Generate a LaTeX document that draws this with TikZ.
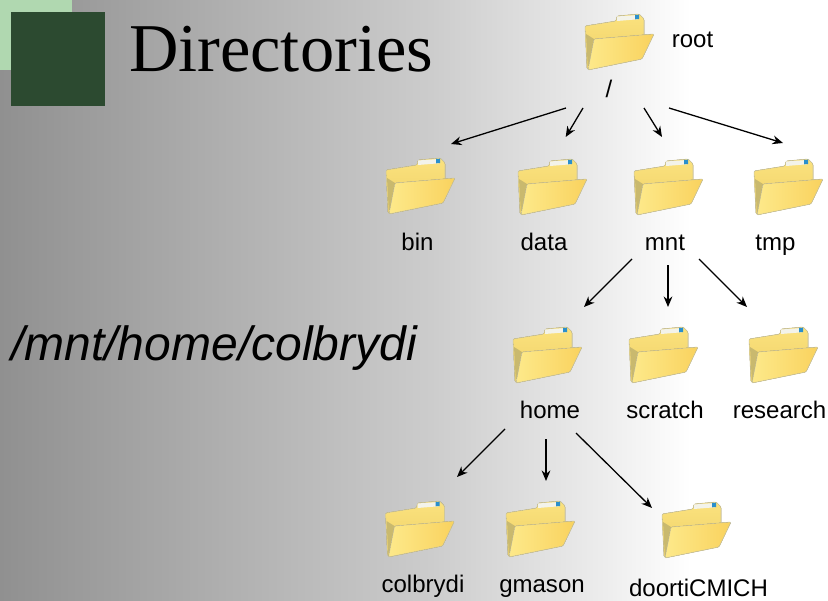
\documentclass[tikz,border=0pt]{standalone}
\usepackage{fontspec}
\setmainfont{Liberation Sans}
\newfontfamily\titlefont{Liberation Serif}
\usetikzlibrary{arrows.meta}

\definecolor{lightgreen}{HTML}{B0D8B0}
\definecolor{darkgreen}{HTML}{2C4A30}
\definecolor{folderedge}{HTML}{CFC79A}
\definecolor{backtop}{HTML}{FBE27E}
\definecolor{backbottom}{HTML}{EED066}
\definecolor{frontleft}{HTML}{FDE98A}
\definecolor{frontright}{HTML}{F9D25E}
\definecolor{gusset}{HTML}{C9B96E}
\definecolor{paper}{HTML}{F3F3EA}
\definecolor{tabblue}{HTML}{2A8FCC}
\pgfdeclarehorizontalshading{bgshade}{100bp}{color(0bp)=(black!43.5);color(25bp)=(black!43.5);color(51bp)=(black!20);color(61.2bp)=(black!7.5);color(66.7bp)=(white);color(100bp)=(white)}

\tikzset{
    folder/.style={inner sep=0pt, minimum width=22.2mm, minimum height=18.6mm, path picture={
        \begin{scope}[shift={(path picture bounding box.center)}]
            \fill[draw=folderedge, line width=0.5pt, rounded corners=1pt, top color=backtop, bottom color=backbottom] (-35,-16) -- (-4,-21) -- (-3,-26) -- (19,-28) -- (24,-23) -- (24,0) -- (10,10) -- (-33,27) -- cycle;
            \fill[paper] (-3,-25.5) -- (18,-27) -- (18,-22.7) -- (-3,-21) -- cycle;
            \fill[tabblue] (15,-27) -- (19,-27.3) -- (19,-23) -- (15,-22.7) -- cycle;
            \fill[gusset] (-26,-3) -- (-32,28) -- (-34,-8) -- cycle;
            \fill[draw=folderedge, line width=0.5pt, rounded corners=1pt, left color=frontleft, right color=frontright] (-26,-3) -- (34,-8) -- (22,17) -- (-32,28) -- cycle;
        \end{scope}}},
    lbl/.style={anchor=base, inner sep=0pt, font=\fontsize{20.5pt}{24pt}\selectfont},
    arrow/.style={line width=1.1pt, -{Stealth[length=9pt,width=7.5pt]}}
}

\begin{document}
\begin{tikzpicture}[x=0.3mm, y=-0.3mm]
    \useasboundingbox (0,0) rectangle (828,601);
    \shade[shading=bgshade] (0,0) rectangle (828,601);
    \fill[lightgreen] (0,0) rectangle (72,70);
    \fill[darkgreen] (11,12) rectangle (105,106);

    \node[font=\titlefont\fontsize{58.4pt}{60pt}\selectfont, anchor=base] at (281,72) (title) {Directories};
    \node[font=\itshape\fontsize{41pt}{44pt}\selectfont, anchor=base] at (214,360) (path) {/mnt/home/colbrydi};

    % folders
    \node[folder] at (620,42)    (root) {};
    \node[folder] at (421,186)   (bin) {};
    \node[folder] at (553,187)   (data) {};
    \node[folder] at (669,187)   (mnt) {};
    \node[folder] at (789,187)   (tmp) {};
    \node[folder] at (548,355)   (home) {};
    \node[folder] at (664,355)   (scratch) {};
    \node[folder] at (784,355)   (research) {};
    \node[folder] at (420.5,529) (colbrydi) {};
    \node[folder] at (541,529)   (gmason) {};
    \node[folder] at (697,530)   (doorti) {};

    % labels
    \node[lbl] at (692.5,48) (rootlabel) {root};
    \node[lbl] at (609,98)   (slash) {/};
    \node[lbl] at (417.5,250) (binlabel) {bin};
    \node[lbl] at (544,250)  (datalabel) {data};
    \node[lbl] at (665,250)  (mntlabel) {mnt};
    \node[lbl] at (775.5,250) (tmplabel) {tmp};
    \node[lbl] at (550,418)  (homelabel) {home};
    \node[lbl] at (665,418)  (scratchlabel) {scratch};
    \node[lbl] at (779.5,418) (researchlabel) {research};
    \node[lbl] at (423,592)  (colbrydilabel) {colbrydi};
    \node[lbl] at (542,592)  (gmasonlabel) {gmason};
    \node[lbl] at (698.5,596) (doortilabel) {doortiCMICH};

    \draw[arrow] ([shift={(-43,10)}]slash.base) -- ([shift={(30,-42)}]bin.center);
    \draw[arrow] ([shift={(-26,10)}]slash.base) -- ([shift={(12.7,-50)}]data.center);
    \draw[arrow] ([shift={(35,10)}]slash.base) -- ([shift={(-7,-50)}]mnt.center);
    \draw[arrow] ([shift={(60,10)}]slash.base) -- ([shift={(-6,-44)}]tmp.center);

    \draw[arrow] ([shift={(-33,9)}]mntlabel.base) -- ([shift={(36,-48)}]home.center);
    \draw[arrow] ([shift={(3,15)}]mntlabel.base) -- ([shift={(4,-48)}]scratch.center);
    \draw[arrow] ([shift={(34,9)}]mntlabel.base) -- ([shift={(-37,-48)}]research.center);

    \draw[arrow] ([shift={(-45,11)}]homelabel.base) -- ([shift={(36.5,-52)}]colbrydi.center);
    \draw[arrow] ([shift={(-4,21)}]homelabel.base) -- ([shift={(5,-48)}]gmason.center);
    \draw[arrow] ([shift={(26,15)}]homelabel.base) -- ([shift={(-45,-22)}]doorti.center);
\end{tikzpicture}
\end{document}
